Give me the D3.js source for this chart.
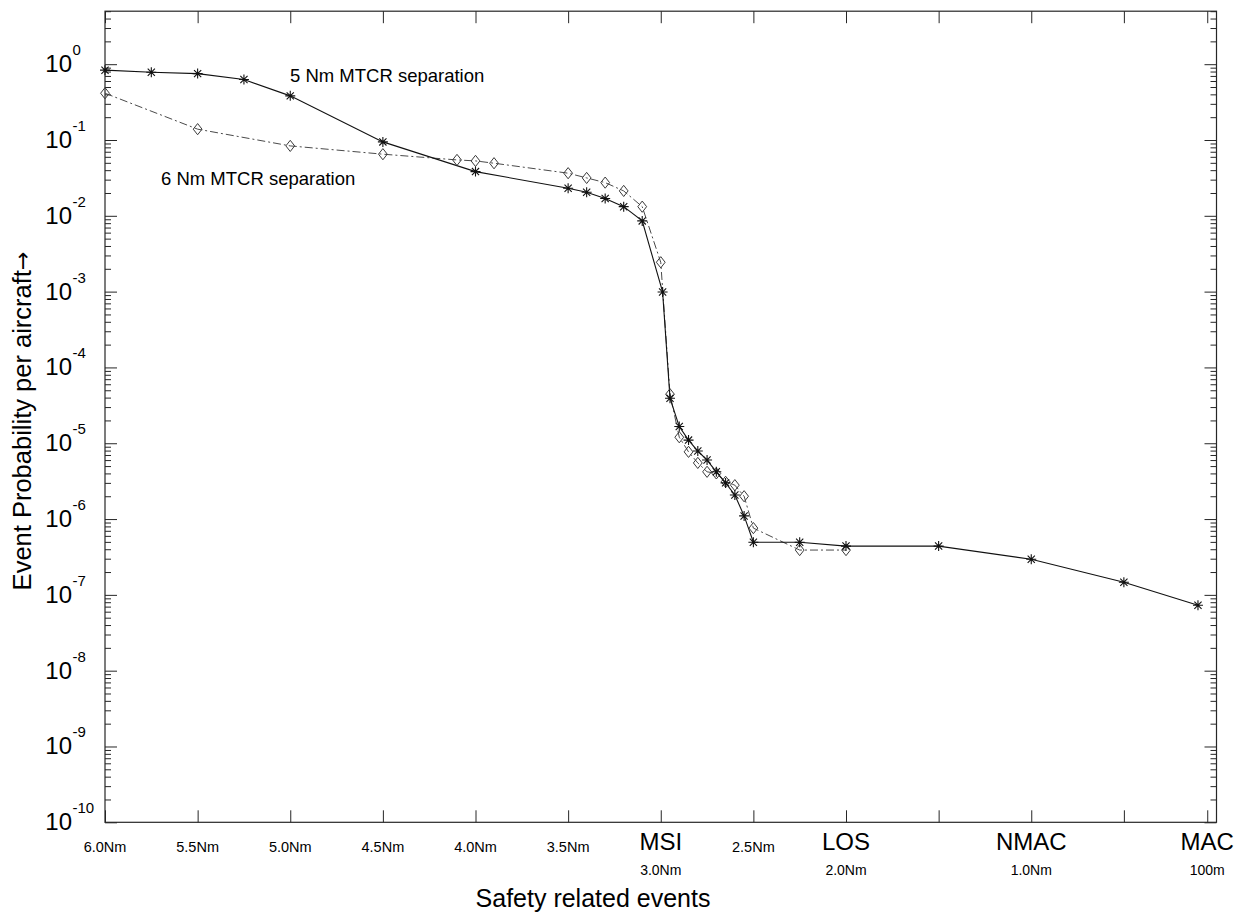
<!DOCTYPE html>
<html>
<head>
<meta charset="utf-8">
<script src="https://cdn.jsdelivr.net/npm/d3@7"></script>
<style>
  html, body { margin: 0; padding: 0; background: #fff; }
  svg { display: block; font-family: "Liberation Sans", Arial, Helvetica, sans-serif; }
</style>
</head>
<body>
<svg id="chart" width="1243" height="914"></svg>
<script>
// ---- event scale: tick positions and their labels ----
const xTickValues   = [0, 1, 2, 3, 4, 5, 6, 7, 8, 9, 10, 11, 11.9];
const distanceLabels = ["6.0Nm", "5.5Nm", "5.0Nm", "4.5Nm", "4.0Nm", "3.5Nm", "3.0Nm", "2.5Nm", "2.0Nm", "", "1.0Nm", "", "100m"];
const eventLabels    = ["", "", "", "", "", "", "MSI", "", "LOS", "", "NMAC", "", "MAC"];

// ---- probability axis: decades ----
const yDecades = [0, -1, -2, -3, -4, -5, -6, -7, -8, -9, -10];

// ---- 5 Nm MTCR separation ----
const pos5 = [0, 0.5, 1, 1.5, 2, 3, 4, 5, 5.2, 5.4, 5.6, 5.8, 6.02, 6.1, 6.2, 6.3, 6.4, 6.5, 6.6, 6.7, 6.8, 6.9, 7.0, 7.5, 8, 9, 10, 11, 11.8];
const prob5 = [0.834, 0.784, 0.751, 0.627, 0.382, 0.0944, 0.0383, 0.0231, 0.0205, 0.0169, 0.0132, 0.00857, 0.00099,
               3.92e-5, 1.66e-5, 1.10e-5, 7.9e-6, 6.0e-6, 4.2e-6, 3.0e-6, 2.08e-6, 1.10e-6, 4.95e-7, 4.95e-7,
               4.4e-7, 4.4e-7, 2.95e-7, 1.47e-7, 7.3e-8];

// ---- 6 Nm MTCR separation ----
const pos6 = [0, 1, 2, 3, 3.8, 4.0, 4.2, 5.0, 5.2, 5.4, 5.6, 5.8, 6.0, 6.1, 6.2, 6.3, 6.4, 6.5, 6.6, 6.7, 6.8, 6.9, 7.0, 7.5, 8.0];
const prob6 = [0.414, 0.139, 0.0836, 0.065, 0.0546, 0.053, 0.0494, 0.0365, 0.0316, 0.0274, 0.0213, 0.0132, 0.00244,
               4.43e-5, 1.20e-5, 7.7e-6, 5.5e-6, 4.2e-6, 4.0e-6, 3.1e-6, 2.8e-6, 2.0e-6, 7.6e-7, 3.9e-7, 3.9e-7];

const seriesNames = ["5 Nm MTCR separation", "6 Nm MTCR separation"];

// ---- layout ----
const plot = { left: 105, right: 1216.5, top: 11.2, bottom: 822.3 };

const svg = d3.select("#chart");
svg.append("rect").attr("width", 1243).attr("height", 914).attr("fill", "#fff");

const x = d3.scaleLinear().domain([0, 12]).range([plot.left, plot.right]);
const y = d3.scaleLog().domain([1e-10, 5]).range([plot.bottom, plot.top]);

const majorY = yDecades.map(e => Math.pow(10, e));
const minorY = [];
for (let e = -10; e <= 0; e++) {
  for (let m = 2; m <= 9; m++) {
    const v = m * Math.pow(10, e);
    if (v <= 5 + 1e-9) minorY.push(v);
  }
}

const axisColor = "#262626";

function styleAxis(g) {
  g.select(".domain").remove();
  g.selectAll("line").attr("stroke", axisColor).attr("stroke-width", 1);
  g.selectAll("text").remove();
}

// inward ticks on all four sides
svg.append("g").attr("transform", `translate(${plot.left},0)`)
  .call(d3.axisLeft(y).tickValues(majorY).tickSize(-12).tickSizeOuter(0).tickFormat(""))
  .call(styleAxis);
svg.append("g").attr("transform", `translate(${plot.left},0)`)
  .call(d3.axisLeft(y).tickValues(minorY).tickSize(-6).tickSizeOuter(0).tickFormat(""))
  .call(styleAxis);
svg.append("g").attr("transform", `translate(${plot.right},0)`)
  .call(d3.axisRight(y).tickValues(majorY).tickSize(-12).tickSizeOuter(0).tickFormat(""))
  .call(styleAxis);
svg.append("g").attr("transform", `translate(${plot.right},0)`)
  .call(d3.axisRight(y).tickValues(minorY).tickSize(-6).tickSizeOuter(0).tickFormat(""))
  .call(styleAxis);
svg.append("g").attr("transform", `translate(0,${plot.bottom})`)
  .call(d3.axisBottom(x).tickValues(xTickValues).tickSize(-12).tickSizeOuter(0).tickFormat(""))
  .call(styleAxis);
svg.append("g").attr("transform", `translate(0,${plot.top})`)
  .call(d3.axisTop(x).tickValues(xTickValues).tickSize(-12).tickSizeOuter(0).tickFormat(""))
  .call(styleAxis);

// plot frame
svg.append("rect")
  .attr("x", plot.left).attr("y", plot.top)
  .attr("width", plot.right - plot.left).attr("height", plot.bottom - plot.top)
  .attr("fill", "none").attr("stroke", axisColor).attr("stroke-width", 1.2);

// y tick labels: 10 with superscript exponent
const yLab = svg.append("g").attr("fill", "#000");
yDecades.forEach(e => {
  const ty = y(Math.pow(10, e));
  yLab.append("text").attr("x", 72).attr("y", ty + 8)
    .attr("text-anchor", "end").attr("font-size", 24).text("10");
  yLab.append("text").attr("x", 72.5).attr("y", ty - 9)
    .attr("text-anchor", "start").attr("font-size", 15).text(String(e));
});

// x tick labels
const xLab = svg.append("g").attr("fill", "#000").attr("text-anchor", "middle");
xTickValues.forEach((v, i) => {
  if (eventLabels[i]) {
    xLab.append("text").attr("x", x(v)).attr("y", 850).attr("font-size", 24).text(eventLabels[i]);
    xLab.append("text").attr("x", x(v)).attr("y", 875).attr("font-size", 14).text(distanceLabels[i]);
  } else if (distanceLabels[i]) {
    xLab.append("text").attr("x", x(v)).attr("y", 851.5).attr("font-size", 14.5).text(distanceLabels[i]);
  }
});

// axis titles
svg.append("text").attr("x", 593).attr("y", 907).attr("text-anchor", "middle")
  .attr("font-size", 25).attr("fill", "#000").text("Safety related events");
const yTitle = svg.append("text").attr("transform", "translate(31,421) rotate(-90)").attr("text-anchor", "middle")
  .attr("font-size", 25.5).attr("fill", "#000");
yTitle.append("tspan").text("Event Probability per aircraft");
yTitle.append("tspan").attr("font-family", "DejaVu Sans").attr("font-size", 22).attr("dy", -1).text("\u2192");

// series lines
const line = d3.line().x(d => x(d[0])).y(d => y(d[1]));
const data5 = pos5.map((p, i) => [p, prob5[i]]);
const data6 = pos6.map((p, i) => [p, prob6[i]]);

svg.append("path").datum(data6).attr("d", line)
  .attr("fill", "none").attr("stroke", "#4a4a4a").attr("stroke-width", 1)
  .attr("stroke-dasharray", "8,3,2,3");
svg.append("path").datum(data5).attr("d", line)
  .attr("fill", "none").attr("stroke", "#111").attr("stroke-width", 1.1);

// markers
const starPath = "M-5,0H5M0,-5V5M-3.6,-3.6L3.6,3.6M-3.6,3.6L3.6,-3.6";
const diamondPath = "M0,-5.6L4.4,0L0,5.6L-4.4,0Z";

svg.append("g").selectAll("path").data(data6).join("path")
  .attr("transform", d => `translate(${x(d[0])},${y(d[1])})`)
  .attr("d", diamondPath).attr("fill", "none").attr("stroke", "#3a3a3a").attr("stroke-width", 1);

svg.append("g").selectAll("path").data(data5).join("path")
  .attr("transform", d => `translate(${x(d[0])},${y(d[1])})`)
  .attr("d", starPath).attr("fill", "none").attr("stroke", "#111").attr("stroke-width", 1.1);

// series annotations
svg.append("text").attr("x", 290).attr("y", 81.5).attr("font-size", 18.5).attr("fill", "#000").text(seriesNames[0]);
svg.append("text").attr("x", 161).attr("y", 185).attr("font-size", 18.5).attr("fill", "#000").text(seriesNames[1]);
</script>
</body>
</html>
